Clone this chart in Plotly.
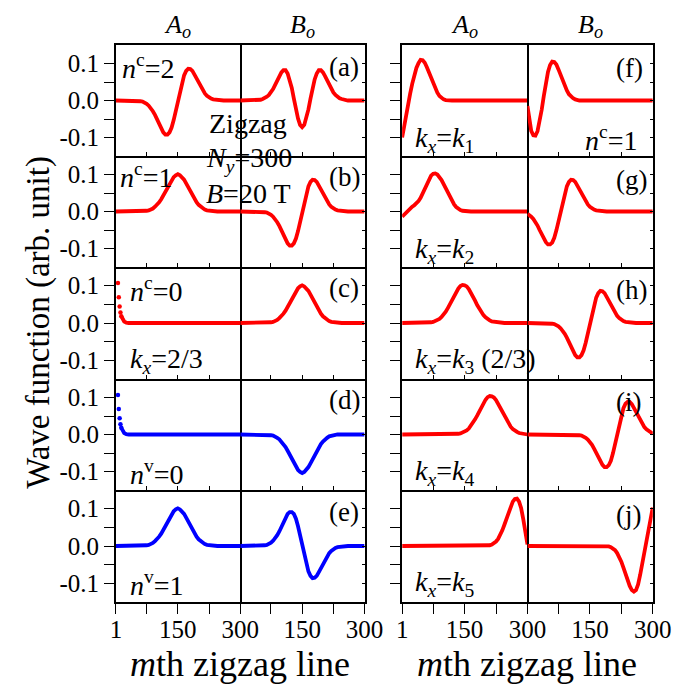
import plotly.graph_objects as go

# ---------------- data (m-th zigzag line, wave function values) ----------------
M = [1] + list(range(5, 301, 5))
M_EDGE = [6, 8, 10, 12, 14, 17, 21, 26, 32, 300]

# (a) A_o
WA_A = [0, 0, 0, 0, 0, 0, 0, 0, 0, 0,
        0, -0.001, -0.002, -0.003, -0.005, -0.009, -0.014, -0.020, -0.029, -0.039,
        -0.051, -0.063, -0.076, -0.086, -0.092, -0.092, -0.086, -0.073, -0.053, -0.028,
        0.0, 0.026, 0.049, 0.068, 0.080, 0.086, 0.085, 0.080, 0.070, 0.059,
        0.048, 0.037, 0.027, 0.019, 0.013, 0.008, 0.005, 0.003, 0.002, 0.001,
        0, 0, 0, 0, 0, 0, 0, 0, 0, 0,
        0]
# (a) B_o
WA_B = [0, 0, 0, 0, 0, 0, 0, 0, 0, 0.001,
        0.002, 0.004, 0.006, 0.010, 0.015, 0.022, 0.031, 0.042, 0.054, 0.066,
        0.076, 0.082, 0.082, 0.073, 0.057, 0.034, 0.005, -0.024, -0.049, -0.066,
        -0.072, -0.066, -0.049, -0.024, 0.005, 0.034, 0.057, 0.073, 0.082, 0.082,
        0.076, 0.066, 0.054, 0.042, 0.031, 0.022, 0.015, 0.010, 0.006, 0.004,
        0.002, 0.001, 0, 0, 0, 0, 0, 0, 0, 0,
        0]
# (b) A_o
WB_A = [0, 0, 0, 0, 0, 0, 0, 0, 0, 0,
        0, 0, 0, 0, 0.001, 0.002, 0.003, 0.005, 0.008, 0.013,
        0.018, 0.025, 0.033, 0.043, 0.054, 0.065, 0.076, 0.086, 0.093, 0.098,
        0.101, 0.098, 0.093, 0.086, 0.076, 0.065, 0.054, 0.043, 0.033, 0.025,
        0.018, 0.013, 0.008, 0.005, 0.003, 0.002, 0.001, 0, 0, 0,
        0, 0, 0, 0, 0, 0, 0, 0, 0, 0,
        0]
# (b) B_o  (same shape as (a) A_o)
WB_B = WA_A
# (c) A_o  (edge state, on M_EDGE)
WC_A = [0.107, 0.069, 0.044, 0.028, 0.018, 0.009, 0.004, 0.001, 0.0, 0.0]
# (c) B_o
WC_B = WB_A
# (d) A_o (edge state, on M_EDGE)
WD_A = WC_A
# (d) B_o
WD_B = [0, 0, 0, 0, 0, 0, 0, 0, 0, 0,
        0, 0, 0, 0, -0.001, -0.002, -0.003, -0.005, -0.009, -0.013,
        -0.019, -0.026, -0.034, -0.044, -0.055, -0.067, -0.078, -0.088, -0.096, -0.101,
        -0.104, -0.101, -0.096, -0.088, -0.078, -0.067, -0.055, -0.044, -0.034, -0.026,
        -0.019, -0.013, -0.009, -0.005, -0.003, -0.002, -0.001, 0, 0, 0,
        0, 0, 0, 0, 0, 0, 0, 0, 0, 0,
        0]
# (e) A_o
WE_A = WB_A
# (e) B_o
WE_B = [0, 0, 0, 0, 0, 0, 0, 0, 0, 0,
        0, 0.001, 0.002, 0.003, 0.005, 0.009, 0.014, 0.020, 0.029, 0.039,
        0.051, 0.063, 0.076, 0.086, 0.091, 0.091, 0.086, 0.073, 0.053, 0.028,
        0.0, -0.026, -0.049, -0.068, -0.080, -0.086, -0.085, -0.080, -0.070, -0.059,
        -0.048, -0.037, -0.027, -0.019, -0.013, -0.008, -0.005, -0.003, -0.002, -0.001,
        0, 0, 0, 0, 0, 0, 0, 0, 0, 0,
        0]
# (f) A_o
WF_A = [-0.100, -0.072, -0.040, -0.010, 0.018, 0.045, 0.068, 0.088, 0.101, 0.110,
        0.109, 0.102, 0.090, 0.076, 0.061, 0.047, 0.033, 0.021, 0.012, 0.006,
        0.003, 0.001, 0, 0, 0, 0, 0, 0, 0, 0,
        0, 0, 0, 0, 0, 0, 0, 0, 0, 0,
        0, 0, 0, 0, 0, 0, 0, 0, 0, 0,
        0, 0, 0, 0, 0, 0, 0, 0, 0, 0,
        0]
# (f) B_o
WF_B = [-0.015, -0.055, -0.082, -0.094, -0.095, -0.083, -0.058, -0.025, 0.012, 0.048,
        0.077, 0.096, 0.105, 0.104, 0.097, 0.084, 0.069, 0.053, 0.039, 0.027,
        0.017, 0.010, 0.006, 0.003, 0.001, 0, 0, 0, 0, 0,
        0, 0, 0, 0, 0, 0, 0, 0, 0, 0,
        0, 0, 0, 0, 0, 0, 0, 0, 0, 0,
        0, 0, 0, 0, 0, 0, 0, 0, 0, 0,
        0]
# (g) A_o
WG_A = [-0.014, -0.009, -0.002, 0.004, 0.009, 0.013, 0.017, 0.022, 0.028, 0.037,
        0.049, 0.062, 0.076, 0.088, 0.097, 0.102, 0.103, 0.100, 0.094, 0.085,
        0.074, 0.062, 0.050, 0.038, 0.028, 0.019, 0.012, 0.007, 0.004, 0.002,
        0.001, 0, 0, 0, 0, 0, 0, 0, 0, 0,
        0, 0, 0, 0, 0, 0, 0, 0, 0, 0,
        0, 0, 0, 0, 0, 0, 0, 0, 0, 0,
        0]
# (g) B_o
WG_B = [-0.006, -0.009, -0.014, -0.020, -0.028, -0.038, -0.050, -0.062, -0.073, -0.083,
        -0.089, -0.089, -0.084, -0.071, -0.051, -0.027, 0.0, 0.026, 0.049, 0.068,
        0.080, 0.086, 0.085, 0.080, 0.070, 0.059, 0.048, 0.037, 0.027, 0.019,
        0.013, 0.008, 0.005, 0.003, 0.002, 0.001, 0, 0, 0, 0,
        0, 0, 0, 0, 0, 0, 0, 0, 0, 0,
        0, 0, 0, 0, 0, 0, 0, 0, 0, 0,
        0]
# (h) A_o
WH_A = [0, 0, 0, 0, 0, 0, 0, 0, 0, 0,
        0, 0, 0, 0.001, 0.002, 0.003, 0.005, 0.007, 0.011, 0.016,
        0.022, 0.030, 0.040, 0.051, 0.062, 0.073, 0.084, 0.092, 0.099, 0.102,
        0.101, 0.098, 0.091, 0.082, 0.071, 0.060, 0.048, 0.038, 0.029, 0.021,
        0.015, 0.010, 0.007, 0.004, 0.003, 0.002, 0.001, 0, 0, 0,
        0, 0, 0, 0, 0, 0, 0, 0, 0, 0,
        0]
# (h) B_o
WH_B = WA_A
# (i) A_o
WI_A = [0, 0, 0, 0, 0, 0, 0, 0, 0, 0,
        0, 0, 0, 0, 0, 0, 0, 0, 0, 0,
        0, 0, 0, 0, 0, 0, 0.001, 0.002, 0.003, 0.005,
        0.007, 0.011, 0.016, 0.023, 0.031, 0.041, 0.051, 0.063, 0.075, 0.085,
        0.094, 0.101, 0.104, 0.103, 0.100, 0.093, 0.083, 0.072, 0.061, 0.049,
        0.039, 0.029, 0.021, 0.015, 0.010, 0.007, 0.004, 0.003, 0.002, 0.001,
        0.0]
# (i) B_o
WI_B = [0, 0, 0, 0, 0, 0, 0, 0, 0, 0,
        0, 0, 0, 0, 0, 0, 0, 0, 0, 0,
        0, 0, 0, 0, -0.001, -0.002, -0.003, -0.005, -0.009, -0.014,
        -0.020, -0.028, -0.038, -0.049, -0.061, -0.072, -0.082, -0.088, -0.088, -0.083,
        -0.071, -0.051, -0.027, 0.0, 0.027, 0.051, 0.071, 0.083, 0.088, 0.088,
        0.082, 0.072, 0.061, 0.049, 0.038, 0.028, 0.020, 0.014, 0.009, 0.005,
        0.002]
# (j) A_o
WJ_A = [0, 0, 0, 0, 0, 0, 0, 0, 0, 0,
        0, 0, 0, 0, 0, 0, 0, 0, 0, 0,
        0, 0, 0, 0, 0, 0, 0, 0, 0, 0,
        0, 0, 0, 0, 0, 0, 0, 0, 0, 0,
        0, 0.001, 0.002, 0.004, 0.007, 0.012, 0.019, 0.029, 0.042, 0.057,
        0.074, 0.091, 0.107, 0.119, 0.126, 0.127, 0.119, 0.101, 0.072, 0.038,
        0.004]
# (j) B_o
WJ_B = [0, 0, 0, 0, 0, 0, 0, 0, 0, 0,
        0, 0, 0, 0, 0, 0, 0, 0, 0, 0,
        0, 0, 0, 0, 0, 0, 0, 0, 0, 0,
        0, 0, 0, 0, 0, 0, 0, 0, 0, -0.001,
        -0.003, -0.006, -0.011, -0.019, -0.029, -0.042, -0.058, -0.075, -0.092, -0.107,
        -0.118, -0.122, -0.118, -0.103, -0.077, -0.047, -0.014, 0.020, 0.054, 0.082,
        0.103]

X_MAJOR_A = [1, 150, 300]
X_LABELS_A = ["1", "150", "300"]
X_MINOR_A = [75, 225]
X_MAJOR_B = [150, 300]
X_LABELS_B = ["150", "300"]
X_MINOR_B = [1, 75, 225]
Y_MAJOR = [-0.1, 0.0, 0.1]
Y_LABELS = ["-0.1", "0.0", "0.1"]
Y_MINOR = [-0.05, 0.05]

RED, BLUE = "#ff0000", "#0000ff"
# (row, col, m grid, values, colour, number of leading isolated dots)
PANELS = [
    (0, 0, M, WA_A, RED, 0), (0, 1, M, WA_B, RED, 0),
    (1, 0, M, WB_A, RED, 0), (1, 1, M, WB_B, RED, 0),
    (2, 0, M_EDGE, WC_A, RED, 4), (2, 1, M, WC_B, RED, 0),
    (3, 0, M_EDGE, WD_A, BLUE, 4), (3, 1, M, WD_B, BLUE, 0),
    (4, 0, M, WE_A, BLUE, 0), (4, 1, M, WE_B, BLUE, 0),
    (0, 2, M, WF_A, RED, 0), (0, 3, M, WF_B, RED, 0),
    (1, 2, M, WG_A, RED, 0), (1, 3, M, WG_B, RED, 0),
    (2, 2, M, WH_A, RED, 0), (2, 3, M, WH_B, RED, 0),
    (3, 2, M, WI_A, RED, 0), (3, 3, M, WI_B, RED, 0),
    (4, 2, M, WJ_A, RED, 0), (4, 3, M, WJ_B, RED, 0),
]

# ---------------- layout ----------------
W, H = 692, 685
COLS = [(114, 243), (243, 372), (411, 541), (541, 671)]
ROWS = [(45, 156), (156, 267), (267, 379), (379, 490), (490, 602)]
FONT = "Liberation Serif"
LW = 1.6

fig = go.Figure()


def suffix(r, c):
    i = r * 4 + c + 1
    return "" if i == 1 else str(i)


layout = dict(width=W, height=H, margin=dict(l=0, r=0, t=0, b=0),
              paper_bgcolor="white", plot_bgcolor="white", showlegend=False,
              font=dict(family=FONT, color="black"))

for r in range(5):
    for c in range(4):
        s = suffix(r, c)
        x0, x1 = COLS[c]
        y0, y1 = ROWS[r]
        is_a = c in (0, 2)
        xa = dict(domain=[x0 / W, x1 / W], range=[1, 300], anchor="y" + s,
                  side="bottom", showline=True, linecolor="black", linewidth=LW,
                  mirror=(r == 0), showgrid=False, zeroline=False,
                  tickmode="array",
                  tickvals=X_MAJOR_A if is_a else X_MAJOR_B,
                  tickcolor="black", tickwidth=1.3,
                  tickfont=dict(family=FONT, size=25, color="black"))
        if r == 4:
            xa.update(ticks="outside", ticklen=10, ticklabelstandoff=-6,
                      ticktext=X_LABELS_A if is_a else X_LABELS_B,
                      minor=dict(tickmode="array",
                                 tickvals=X_MINOR_A if is_a else X_MINOR_B,
                                 ticks="outside", ticklen=10, tickwidth=1.3,
                                 tickcolor="black", showgrid=False))
        else:
            xa.update(ticks="inside", ticklen=4, showticklabels=False,
                      minor=dict(tickmode="array",
                                 tickvals=X_MINOR_A if is_a else X_MINOR_B,
                                 ticks="inside", ticklen=4, tickwidth=1.3,
                                 tickcolor="black", showgrid=False))
        ya = dict(domain=[1 - y1 / H, 1 - y0 / H], range=[-0.15, 0.15],
                  anchor="x" + s, showline=True, linecolor="black", linewidth=LW,
                  showgrid=False, zeroline=False, tickmode="array",
                  tickvals=Y_MAJOR, tickcolor="black", tickwidth=1.3,
                  tickfont=dict(family=FONT, size=25, color="black"))
        if is_a:
            ya.update(side="left", mirror=True, ticks="outside", ticklen=10,
                      minor=dict(tickmode="array", tickvals=Y_MINOR, ticks="outside",
                                 ticklen=10, tickwidth=1.3, tickcolor="black",
                                 showgrid=False))
            if c == 0:
                ya.update(ticktext=Y_LABELS)
            else:
                ya.update(showticklabels=False)
        else:
            ya.update(side="right", mirror=False, ticks="inside", ticklen=3,
                      showticklabels=False,
                      minor=dict(tickmode="array", tickvals=Y_MINOR, ticks="inside",
                                 ticklen=3, tickwidth=1.3, tickcolor="black",
                                 showgrid=False))
        layout["xaxis" + s] = xa
        layout["yaxis" + s] = ya

for r, c, mx, vals, col, ndots in PANELS:
    s = suffix(r, c)
    fig.add_trace(go.Scatter(x=mx[ndots:], y=vals[ndots:], mode="lines",
                             line=dict(color=col, width=3.8),
                             xaxis="x" + s, yaxis="y" + s, hoverinfo="skip"))
    if ndots:
        fig.add_trace(go.Scatter(x=mx[:ndots + 1], y=vals[:ndots + 1], mode="markers",
                                 marker=dict(color=col, size=4.5),
                                 xaxis="x" + s, yaxis="y" + s, hoverinfo="skip"))

ann = []


def txt(text, x, y, size, xanchor="left", yanchor="middle", angle=0):
    ann.append(dict(text=text, x=x / W, y=1 - y / H, xref="paper", yref="paper",
                    xanchor=xanchor, yanchor=yanchor, showarrow=False, textangle=angle,
                    font=dict(family=FONT, size=size, color="black")))


AO = "<i>A</i><sub><i>o</i></sub>"
BO = "<i>B</i><sub><i>o</i></sub>"
for xc, t in [(178, AO), (308, BO), (476, AO), (606, BO)]:
    txt(t, xc, 26, 26, xanchor="center")

for lab, x, y in [("(a)", 333, 67), ("(b)", 333, 177), ("(c)", 333, 288),
                  ("(d)", 333, 400), ("(e)", 333, 512),
                  ("(f)", 631, 68), ("(g)", 631, 180), ("(h)", 631, 290),
                  ("(i)", 631, 402), ("(j)", 631, 515)]:
    txt(lab, x, y, 27)

S = 28
txt("<i>n</i><sup>c</sup>=2", 118, 66, S)
txt("<i>n</i><sup>c</sup>=1", 116, 176, S)
txt("<i>n</i><sup>c</sup>=0", 127, 289, S)
txt("<i>k</i><sub><i>x</i></sub>=2/3", 127, 361, S)
txt("<i>n</i><sup>v</sup>=0", 127, 473, S)
txt("<i>n</i><sup>v</sup>=1", 127, 583, S)
txt("Zigzag", 251, 123, S, xanchor="center")
txt("<i>N</i><sub><i>y</i></sub>=300", 252, 160, S, xanchor="center")
txt("<i>B</i>=20 T", 252, 193, S, xanchor="center")

txt("<i>k</i><sub><i>x</i></sub>=<i>k</i><sub>1</sub>", 422, 139, S)
txt("<i>n</i><sup>c</sup>=1", 658, 138, S, xanchor="right")
txt("<i>k</i><sub><i>x</i></sub>=<i>k</i><sub>2</sub>", 422, 250, S)
txt("<i>k</i><sub><i>x</i></sub>=<i>k</i><sub>3</sub> (2/3)", 422, 361, S)
txt("<i>k</i><sub><i>x</i></sub>=<i>k</i><sub>4</sub>", 422, 472, S)
txt("<i>k</i><sub><i>x</i></sub>=<i>k</i><sub>5</sub>", 422, 583, S)

txt("<i>m</i>th zigzag line", 243, 686, 36, xanchor="center", yanchor="bottom")
txt("<i>m</i>th zigzag line", 541, 686, 36, xanchor="center", yanchor="bottom")
txt("Wave function (arb. unit)", 33, 322, 33, xanchor="center", angle=-90)

layout["annotations"] = ann
fig.update_layout(**layout)
fig.write_html("out.html")
